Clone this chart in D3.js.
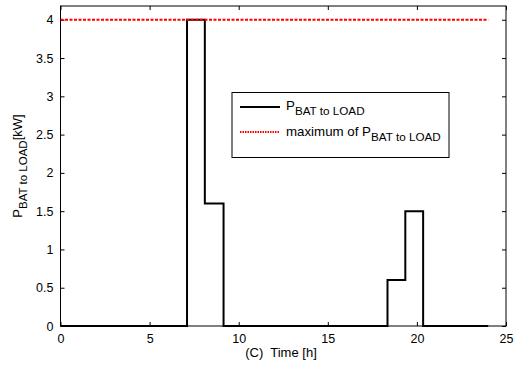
<!DOCTYPE html>
<html><head><meta charset="utf-8">
<script src="https://cdn.jsdelivr.net/npm/d3@7"></script>
<style>body{margin:0;background:#fff;} text{font-family:"Liberation Sans",Arial,sans-serif;}</style>
</head><body>
<svg id="c" width="515" height="370"></svg>
<script>
// step data: time breakpoints (h) and power (kW)
const stepTimes = [0, 7.1, 7.1, 8.1, 8.1, 9.15, 9.15, 18.35, 18.35, 19.35, 19.35, 20.35, 20.35, 24];
const stepPower = [0, 0, 4, 4, 1.6, 1.6, 0, 0, 0.6, 0.6, 1.5, 1.5, 0, 0];
const maxTimes = [0, 24];
const maxPower = [4, 4];
const xTicks = [0, 5, 10, 15, 20, 25];
const yTicks = [0, 0.5, 1, 1.5, 2, 2.5, 3, 3.5, 4];
const yTickLabels = ["0", "0.5", "1", "1.5", "2", "2.5", "3", "3.5", "4"];

const svg = d3.select("#c");
const L = 60.5, R = 506, T = 6, B = 326;
const x = d3.scaleLinear().domain([0, 25]).range([L, R]);
const y = d3.scaleLinear().domain([0, 4.18]).range([B, T]);

// box
svg.append("rect").attr("x", L).attr("y", T).attr("width", R - L).attr("height", B - T)
  .attr("fill", "#fff").attr("stroke", "#000").attr("stroke-width", 1);

// ticks inward all sides
const axB = d3.axisBottom(x).tickValues(xTicks).tickSizeInner(-4).tickSizeOuter(0).tickPadding(8);
const axT = d3.axisTop(x).tickValues(xTicks).tickSizeInner(-4).tickSizeOuter(0).tickFormat("");
const axLf = d3.axisLeft(y).tickValues(yTicks).tickSizeInner(-4).tickSizeOuter(0).tickPadding(7)
  .tickFormat((d, i) => yTickLabels[i]);
const axRt = d3.axisRight(y).tickValues(yTicks).tickSizeInner(-4).tickSizeOuter(0).tickFormat("");
function style(g){ g.select(".domain").remove(); g.selectAll("line").attr("stroke","#000");
  g.selectAll("text").attr("font-size", 12.5).attr("fill","#000").attr("font-family","Liberation Sans, Arial, sans-serif"); }
svg.append("g").attr("transform", `translate(0,${B})`).call(axB).call(style);
svg.append("g").attr("transform", `translate(0,${T})`).call(axT).call(style);
svg.append("g").attr("transform", `translate(${L},0)`).call(axLf).call(style);
svg.append("g").attr("transform", `translate(${R},0)`).call(axRt).call(style);

// data lines
const line = d3.line().x(d => x(d[0])).y(d => y(d[1]));
svg.append("path").datum(stepTimes.map((t, i) => [t, stepPower[i]]))
  .attr("d", line).attr("fill", "none").attr("stroke", "#000").attr("stroke-width", 2);
svg.append("path").datum(maxTimes.map((t, i) => [t, maxPower[i]]))
  .attr("d", line).attr("fill", "none").attr("stroke", "#ff0000").attr("stroke-width", 2)
  .attr("stroke-dasharray", "3,1.5");

// legend
const lg = svg.append("g");
lg.append("rect").attr("x", 232).attr("y", 92.5).attr("width", 217).attr("height", 65)
  .attr("fill", "#fff").attr("stroke", "#000").attr("stroke-width", 1);
lg.append("line").attr("x1", 240).attr("x2", 280).attr("y1", 107).attr("y2", 107)
  .attr("stroke", "#000").attr("stroke-width", 2);
lg.append("line").attr("x1", 240).attr("x2", 280).attr("y1", 132).attr("y2", 132)
  .attr("stroke", "#ff0000").attr("stroke-width", 2).attr("stroke-dasharray", "1.5,1");
const t1 = lg.append("text").attr("x", 286).attr("y", 110).attr("font-size", 13.3);
t1.append("tspan").text("P");
t1.append("tspan").attr("dy", 5).attr("font-size", 11.7).text("BAT to LOAD");
const t2 = lg.append("text").attr("x", 286).attr("y", 136).attr("font-size", 13.3);
t2.append("tspan").text("maximum of P");
t2.append("tspan").attr("dy", 5).attr("font-size", 11.7).text("BAT to LOAD");

// axis labels
svg.append("text").attr("x", 281).attr("y", 357).attr("text-anchor", "middle").attr("font-size", 13)
  .attr("xml:space", "preserve").text("(C)  Time [h]");
const yl = svg.append("text").attr("transform", "translate(22,166) rotate(-90)")
  .attr("text-anchor", "middle").attr("font-size", 13);
yl.append("tspan").text("P");
yl.append("tspan").attr("dy", 5).attr("font-size", 11.5).text("BAT to LOAD");
yl.append("tspan").attr("dy", -5).text("[kW]");
</script>
</body></html>
